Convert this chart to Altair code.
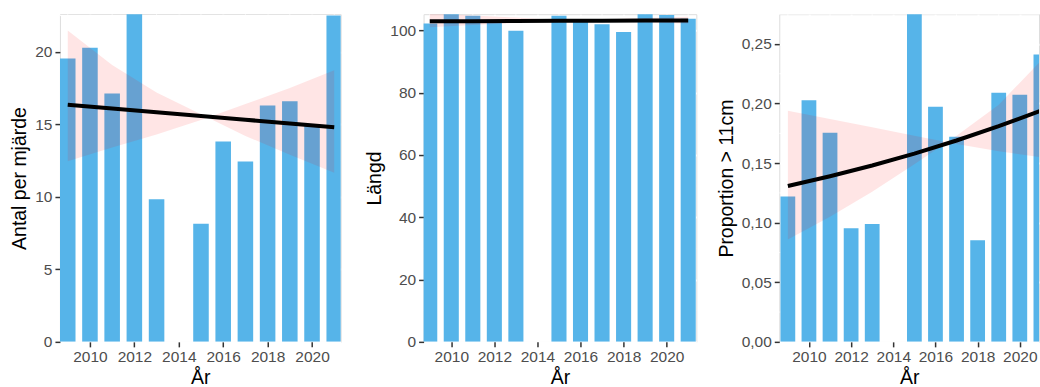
import altair as alt
import pandas as pd

# ---- data ----
years = [2009, 2010, 2011, 2012, 2013, 2015, 2016, 2017, 2018, 2019, 2020, 2021]
antal = [19.55, 20.28, 17.13, 23.5, 9.84, 8.14, 13.82, 12.44, 16.30, 16.60, 14.90, 22.50]
langd = [102.2, 105.5, 104.7, 102.5, 99.9, 104.7, 103.0, 102.0, 99.5, 105.4, 104.9, 103.7]
prop = [0.1219, 0.2028, 0.1755, 0.0953, 0.0989, 0.2800, 0.1973, 0.1722, 0.0852, 0.2090, 0.2074, 0.2412]

trend_years = [2009, 2011, 2013, 2015, 2017, 2019, 2021]
antal_fit = [16.35, 16.09, 15.83, 15.58, 15.32, 15.06, 14.80]
antal_a = [21.47, 19.10, 17.20, 15.70, 14.20, 12.90, 11.66]
antal_b = [12.46, 13.40, 14.30, 15.30, 16.40, 17.50, 18.74]

langd_fit = [102.90, 102.95, 103.00, 103.05, 103.10, 103.15, 103.20]
langd_a = [105.5, 104.8, 104.1, 103.3, 102.9, 102.5, 102.2]
langd_b = [101.0, 101.7, 102.4, 103.0, 103.5, 104.0, 104.4]

prop_fit = [0.1308, 0.1390, 0.1480, 0.1580, 0.1690, 0.1810, 0.1940]
prop_a = [0.194, 0.187, 0.180, 0.173, 0.166, 0.160, 0.155]
prop_b = [0.086, 0.105, 0.126, 0.149, 0.173, 0.199, 0.236]

x_major = [2010, 2012, 2014, 2016, 2018, 2020]
x_minor = [2009, 2011, 2013, 2015, 2017, 2019, 2021]

FONT = "Liberation Sans"
BAR = "#56B4E9"


def panel(values, fit, ea, eb, ymax, ytitle, ymajor, yminor, width, xdom, label_expr=None):
    xs = alt.Scale(domain=xdom, nice=False, zero=False)
    ys = alt.Scale(domain=[0, ymax], nice=False, zero=False)

    common = dict(grid=True, gridColor="white", gridWidth=2, domain=False,
                  tickColor="#333333", tickWidth=1.5, tickSize=5,
                  labelPadding=3, labelColor="#4D4D4D", labelFontSize=15.5,
                  labelFont=FONT, titleFont=FONT, titleFontSize=19.5,
                  titleFontWeight="normal", titleColor="black",
                  labelFlush=False, labelOverlap=False)
    xaxis = alt.Axis(values=x_major, format="d", title="År", titlePadding=3, **common)
    ykw = dict(values=ymajor, title=ytitle, titlePadding=5, **common)
    if label_expr:
        ykw["labelExpr"] = label_expr
        ykw["format"] = ".2f"
    yaxis = alt.Axis(**ykw)

    bars_df = pd.DataFrame({"year": years, "value": values})
    fit_df = pd.DataFrame({"year": trend_years, "fit": fit, "a": ea, "b": eb})

    gx = alt.Chart(pd.DataFrame({"v": x_minor})).mark_rule(
        color="white", strokeWidth=1, clip=True).encode(
        x=alt.X("v:Q", scale=xs, axis=xaxis))
    gy = alt.Chart(pd.DataFrame({"v": yminor})).mark_rule(
        color="white", strokeWidth=1, clip=True).encode(
        y=alt.Y("v:Q", scale=ys, axis=yaxis))

    bars = alt.Chart(bars_df).transform_calculate(
        x0="datum.year - 0.35", x1="datum.year + 0.35"
    ).mark_bar(color=BAR, clip=True).encode(
        x=alt.X("x0:Q", scale=xs, axis=xaxis),
        x2="x1:Q",
        y=alt.Y("value:Q", scale=ys, axis=yaxis),
        y2=alt.datum(0),
    )
    ribbon = alt.Chart(fit_df).mark_area(
        color="#FF0000", opacity=0.1, clip=True, orient="vertical").encode(
        x=alt.X("year:Q", scale=xs, axis=xaxis),
        y=alt.Y("a:Q", scale=ys, axis=yaxis),
        y2="b:Q",
    )
    line = alt.Chart(fit_df).mark_line(color="black", strokeWidth=4, clip=True).encode(
        x=alt.X("year:Q", scale=xs, axis=xaxis),
        y=alt.Y("fit:Q", scale=ys, axis=yaxis),
    )
    return alt.layer(gx, gy, bars, ribbon, line).properties(width=width, height=328)


p1 = panel(antal, antal_fit, antal_a, antal_b, 22.6, "Antal per mjärde",
           [0, 5, 10, 15, 20], [2.5, 7.5, 12.5, 17.5, 22.5], 281, [2008.649, 2021.29])
p2 = panel(langd, langd_fit, langd_a, langd_b, 105.2, "Längd",
           [0, 20, 40, 60, 80, 100], [10, 30, 50, 70, 90], 273, [2008.715, 2021.377])
p3 = panel(prop, prop_fit, prop_a, prop_b, 0.275, "Proportion > 11cm",
           [0, 0.05, 0.10, 0.15, 0.20, 0.25], [0.025, 0.075, 0.125, 0.175, 0.225, 0.275],
           260, [2008.592, 2020.91], label_expr="replace(datum.label, '.', ',')")

chart = alt.hconcat(p1, p2, p3, spacing=83, bounds="flush").properties(
    padding={"left": 9, "top": 13, "right": 0, "bottom": 0}
).configure_view(fill="#EBEBEB", stroke=None).configure(background="white")

chart.save("out.html", embed_options={"renderer": "svg", "actions": False})
